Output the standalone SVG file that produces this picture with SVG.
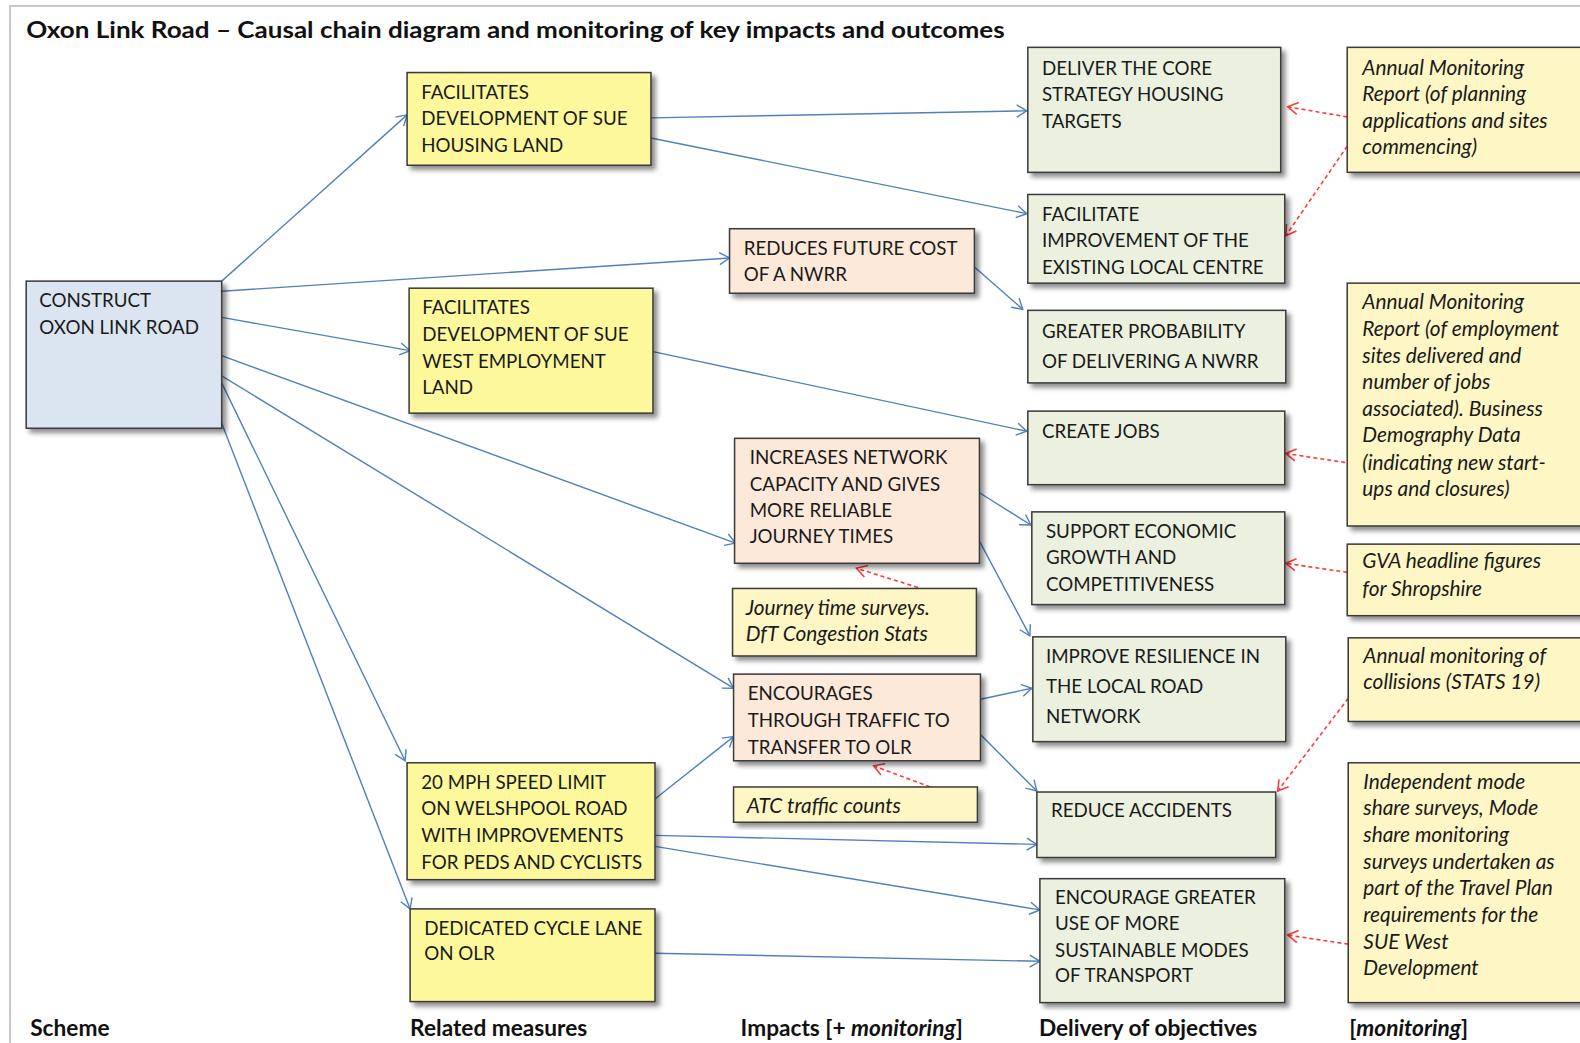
<svg xmlns="http://www.w3.org/2000/svg" width="1580" height="1043" viewBox="0 0 1580 1043">
<defs>
<style>
.t{font-family:Lato,"Liberation Sans",sans-serif;font-size:18.6px;fill:#1a1a1a}
.i{font-family:Lato,"Liberation Sans",sans-serif;font-size:20.7px;font-style:italic;fill:#1a1a1a}
.h{font-family:Lato,"Liberation Sans",sans-serif;font-weight:bold;fill:#111}
.lb{font-size:22.5px}
.box{stroke:#3a3a3a;stroke-width:1.5;filter:url(#sh)}
.blue{fill:#dbe5f1}.yel{fill:#fcf89b}.pea{fill:#fde9d9}.grn{fill:#ebf1de}.mon{fill:#fef6c4}
.c{stroke:#4f81bd;stroke-width:1.4;fill:none;marker-end:url(#ab)}
.r{stroke:#ff3b3b;stroke-width:1.6;fill:none;stroke-dasharray:4 3;marker-end:url(#ar)}
</style>
<filter id="sh" x="-10%" y="-10%" width="130%" height="130%">
<feDropShadow dx="4" dy="4" stdDeviation="2.5" flood-color="#000" flood-opacity="0.45"/>
</filter>
<marker id="ab" markerUnits="userSpaceOnUse" markerWidth="14" markerHeight="14" refX="11" refY="7" orient="auto">
<path d="M1,1 L11,7 L1,13" fill="none" stroke="#4f81bd" stroke-width="1.4"/>
</marker>
<marker id="ar" markerUnits="userSpaceOnUse" markerWidth="14" markerHeight="14" refX="11" refY="7" orient="auto">
<path d="M1,1 L11,7 L1,13" fill="none" stroke="#ff3b3b" stroke-width="1.6"/>
</marker>
</defs>
<rect width="1580" height="1043" fill="#fff"/>
<g transform="scale(1.00765)">
<path d="M10,1035 V6 H1570" fill="none" stroke="#c8c8c8" stroke-width="2"/>
<text class="h" x="26" y="38" font-size="23" textLength="971" lengthAdjust="spacingAndGlyphs">Oxon Link Road – Causal chain diagram and monitoring of key impacts and outcomes</text>

<g id="connectors">
<line class="c" x1="220" y1="279" x2="404" y2="114"/>
<line class="c" x1="220" y1="289" x2="724" y2="256"/>
<line class="c" x1="220" y1="315" x2="407" y2="348"/>
<line class="c" x1="220" y1="353" x2="730" y2="539"/>
<line class="c" x1="220" y1="373" x2="728" y2="683"/>
<line class="c" x1="220" y1="380" x2="402" y2="755"/>
<line class="c" x1="220" y1="420" x2="407" y2="902"/>
<line class="c" x1="646" y1="117" x2="1019" y2="110"/>
<line class="c" x1="646" y1="137" x2="1019" y2="212"/>
<line class="c" x1="967" y1="265" x2="1015" y2="307"/>
<line class="c" x1="648" y1="349" x2="1019" y2="428"/>
<line class="c" x1="972" y1="489" x2="1023" y2="521"/>
<line class="c" x1="972" y1="537" x2="1022" y2="631"/>
<line class="c" x1="650" y1="793" x2="728" y2="731"/>
<line class="c" x1="650" y1="829" x2="1029" y2="838"/>
<line class="c" x1="650" y1="840" x2="1032" y2="903"/>
<line class="c" x1="973" y1="694" x2="1024" y2="683"/>
<line class="c" x1="973" y1="729" x2="1029" y2="785"/>
<line class="c" x1="650" y1="946" x2="1032" y2="954"/>
<line class="r" x1="1337" y1="116" x2="1278" y2="106"/>
<line class="r" x1="1337" y1="145" x2="1276" y2="234"/>
<line class="r" x1="1335" y1="459" x2="1276" y2="450"/>
<line class="r" x1="1337" y1="568" x2="1276" y2="559"/>
<line class="r" x1="1338" y1="693" x2="1268" y2="785"/>
<line class="r" x1="1338" y1="937" x2="1278" y2="928"/>
<line class="r" x1="911" y1="583" x2="850" y2="564"/>
<line class="r" x1="923" y1="781" x2="867" y2="760"/>
</g>

<g id="n-construct"><rect class="box blue" x="26" y="279" width="194" height="146"/>
<text class="t" x="39" y="305">CONSTRUCT</text><text class="t" x="39" y="331">OXON LINK ROAD</text></g>

<g id="n-housing"><rect class="box yel" x="404" y="72" width="242" height="92"/>
<text class="t" x="418" y="98">FACILITATES</text><text class="t" x="418" y="124">DEVELOPMENT OF SUE</text><text class="t" x="418" y="151">HOUSING LAND</text></g>

<g id="n-employment"><rect class="box yel" x="406" y="286" width="242" height="124"/>
<text class="t" x="419" y="312">FACILITATES</text><text class="t" x="419" y="338">DEVELOPMENT OF SUE</text><text class="t" x="419" y="365">WEST EMPLOYMENT</text><text class="t" x="419" y="391">LAND</text></g>

<g id="n-20mph"><rect class="box yel" x="404" y="757" width="246" height="116"/>
<text class="t" x="418" y="783">20 MPH SPEED LIMIT</text><text class="t" x="418" y="809">ON WELSHPOOL ROAD</text><text class="t" x="418" y="836">WITH IMPROVEMENTS</text><text class="t" x="418" y="862">FOR PEDS AND CYCLISTS</text></g>

<g id="n-cycle"><rect class="box yel" x="407" y="902" width="243" height="92"/>
<text class="t" x="421" y="928">DEDICATED CYCLE LANE</text><text class="t" x="421" y="953">ON OLR</text></g>

<g id="n-cost"><rect class="box pea" x="724" y="227" width="243" height="64"/>
<text class="t" x="738" y="253">REDUCES FUTURE COST</text><text class="t" x="738" y="279">OF A NWRR</text></g>

<g id="n-capacity"><rect class="box pea" x="729" y="435" width="243" height="124"/>
<text class="t" x="744" y="460">INCREASES NETWORK</text><text class="t" x="744" y="487">CAPACITY AND GIVES</text><text class="t" x="744" y="513">MORE RELIABLE</text><text class="t" x="744" y="539">JOURNEY TIMES</text></g>

<g id="m-journey"><rect class="box mon" x="727" y="584" width="242" height="67"/>
<text class="i" x="740" y="610">Journey time surveys.</text><text class="i" x="740" y="636">DfT Congestion Stats</text></g>

<g id="n-through"><rect class="box pea" x="728" y="669" width="245" height="86"/>
<text class="t" x="742" y="695">ENCOURAGES</text><text class="t" x="742" y="721">THROUGH TRAFFIC TO</text><text class="t" x="742" y="748">TRANSFER TO OLR</text></g>

<g id="m-atc"><rect class="box mon" x="728" y="781" width="242" height="35"/>
<text class="i" x="741" y="807">ATC traffic counts</text></g>

<g id="o-core"><rect class="box grn" x="1020" y="47" width="251" height="124"/>
<text class="t" x="1034" y="74">DELIVER THE CORE</text><text class="t" x="1034" y="100">STRATEGY HOUSING</text><text class="t" x="1034" y="127">TARGETS</text></g>

<g id="o-centre"><rect class="box grn" x="1020" y="193" width="255" height="88"/>
<text class="t" x="1034" y="219">FACILITATE</text><text class="t" x="1034" y="245">IMPROVEMENT OF THE</text><text class="t" x="1034" y="272">EXISTING LOCAL CENTRE</text></g>

<g id="o-nwrr"><rect class="box grn" x="1020" y="308" width="256" height="72"/>
<text class="t" x="1034" y="335">GREATER PROBABILITY</text><text class="t" x="1034" y="365">OF DELIVERING A NWRR</text></g>

<g id="o-jobs"><rect class="box grn" x="1020" y="408" width="255" height="73"/>
<text class="t" x="1034" y="435">CREATE JOBS</text></g>

<g id="o-growth"><rect class="box grn" x="1024" y="508" width="251" height="92"/>
<text class="t" x="1038" y="534">SUPPORT ECONOMIC</text><text class="t" x="1038" y="560">GROWTH AND</text><text class="t" x="1038" y="587">COMPETITIVENESS</text></g>

<g id="o-resilience"><rect class="box grn" x="1025" y="632" width="251" height="104"/>
<text class="t" x="1038" y="658">IMPROVE RESILIENCE IN</text><text class="t" x="1038" y="688">THE LOCAL ROAD</text><text class="t" x="1038" y="718">NETWORK</text></g>

<g id="o-accidents"><rect class="box grn" x="1029" y="786" width="237" height="65"/>
<text class="t" x="1043" y="811">REDUCE ACCIDENTS</text></g>

<g id="o-sustainable"><rect class="box grn" x="1032" y="872" width="243" height="123"/>
<text class="t" x="1047" y="897">ENCOURAGE GREATER</text><text class="t" x="1047" y="923">USE OF MORE</text><text class="t" x="1047" y="950">SUSTAINABLE MODES</text><text class="t" x="1047" y="975">OF TRANSPORT</text></g>

<g id="m-planning"><rect class="box mon" x="1337" y="47" width="260" height="124"/>
<text class="i" x="1352" y="74">Annual Monitoring</text><text class="i" x="1352" y="100">Report (of planning</text><text class="i" x="1352" y="127">applications and sites</text><text class="i" x="1352" y="153">commencing)</text></g>

<g id="m-employment"><rect class="box mon" x="1337" y="281" width="260" height="241"/>
<text class="i" x="1352" y="307">Annual Monitoring</text><text class="i" x="1352" y="333">Report (of employment</text><text class="i" x="1352" y="360">sites delivered and</text><text class="i" x="1352" y="386">number of jobs</text><text class="i" x="1352" y="413">associated). Business</text><text class="i" x="1352" y="439">Demography Data</text><text class="i" x="1352" y="466">(indicating new start-</text><text class="i" x="1352" y="492">ups and closures)</text></g>

<g id="m-gva"><rect class="box mon" x="1337" y="540" width="260" height="71"/>
<text class="i" x="1352" y="564">GVA headline figures</text><text class="i" x="1352" y="591">for Shropshire</text></g>

<g id="m-collisions"><rect class="box mon" x="1338" y="633" width="260" height="83"/>
<text class="i" x="1353" y="658">Annual monitoring of</text><text class="i" x="1353" y="684">collisions (STATS 19)</text></g>

<g id="m-modeshare"><rect class="box mon" x="1338" y="757" width="260" height="238"/>
<text class="i" x="1353" y="783">Independent mode</text><text class="i" x="1353" y="809">share surveys, Mode</text><text class="i" x="1353" y="836">share monitoring</text><text class="i" x="1353" y="862">surveys undertaken as</text><text class="i" x="1353" y="888">part of the Travel Plan</text><text class="i" x="1353" y="915">requirements for the</text><text class="i" x="1353" y="942">SUE West</text><text class="i" x="1353" y="968">Development</text></g>

<g id="labels">
<text class="h lb" x="30" y="1028">Scheme</text>
<text class="h lb" x="407" y="1028">Related measures</text>
<text class="h lb" x="735" y="1028">Impacts [+ <tspan font-style="italic">monitoring</tspan>]</text>
<text class="h lb" x="1031" y="1028">Delivery of objectives</text>
<text class="h lb" x="1339" y="1028">[<tspan font-style="italic">monitoring</tspan>]</text>
</g>
</g>
</svg>
